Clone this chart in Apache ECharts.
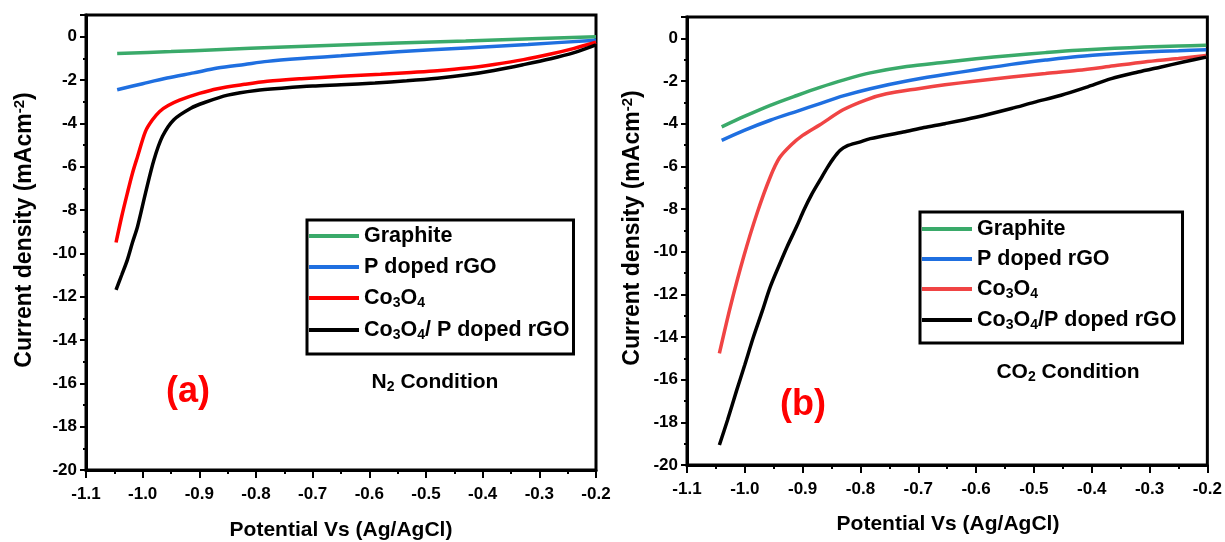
<!DOCTYPE html>
<html><head><meta charset="utf-8">
<script src="https://cdn.jsdelivr.net/npm/echarts@6/dist/echarts.min.js"></script>
<style>html,body{margin:0;padding:0;background:#fff}#c{width:1225px;height:542px}</style>
</head><body><div id="c"></div>
<script>
// ---- data ----
const seriesNames = ['Graphite', 'P doped rGO', 'Co3O4', 'Co3O4/ P doped rGO'];
const seriesNamesB = ['Graphite ', 'P doped rGO ', 'Co3O4 ', 'Co3O4/P doped rGO'];
const xTickLabels = ['-1.1','-1.0','-0.9','-0.8','-0.7','-0.6','-0.5','-0.4','-0.3','-0.2'];
const yTickLabels = ['-20','-18','-16','-14','-12','-10','-8','-6','-4','-2','0'];

// (a) N2 condition: [potential, current density]
const n2Graphite = [[-1.045,-0.78],[-0.95,-0.69],[-0.87,-0.6],[-0.75,-0.48],[-0.65,-0.38],[-0.55,-0.29],[-0.43,-0.2],[-0.3,-0.08],[-0.2,0.0]];
const n2PrGO = [[-1.045,-2.45],[-1.0,-2.17],[-0.957,-1.91],[-0.91,-1.67],[-0.868,-1.45],[-0.82,-1.28],[-0.78,-1.14],[-0.71,-0.99],[-0.65,-0.88],[-0.55,-0.7],[-0.43,-0.52],[-0.32,-0.36],[-0.2,-0.16]];
const n2Co3O4 = [[-1.047,-9.5],[-1.037,-8.3],[-1.027,-7.22],[-1.018,-6.3],[-1.009,-5.53],[-0.995,-4.37],[-0.983,-3.85],[-0.97,-3.45],[-0.955,-3.18],[-0.935,-2.93],[-0.9,-2.62],[-0.868,-2.4],[-0.82,-2.2],[-0.78,-2.06],[-0.72,-1.94],[-0.65,-1.83],[-0.58,-1.74],[-0.534,-1.66],[-0.48,-1.57],[-0.428,-1.45],[-0.38,-1.28],[-0.328,-1.06],[-0.28,-0.8],[-0.24,-0.55],[-0.2,-0.26]];
const n2Composite = [[-1.047,-11.69],[-1.037,-11.0],[-1.027,-10.3],[-1.018,-9.5],[-1.009,-8.76],[-0.995,-7.22],[-0.98,-5.68],[-0.965,-4.6],[-0.945,-3.83],[-0.915,-3.3],[-0.892,-3.05],[-0.85,-2.7],[-0.8,-2.48],[-0.75,-2.37],[-0.7,-2.28],[-0.65,-2.22],[-0.59,-2.14],[-0.534,-2.04],[-0.48,-1.92],[-0.428,-1.76],[-0.38,-1.56],[-0.328,-1.29],[-0.28,-1.02],[-0.24,-0.75],[-0.2,-0.38]];

// (b) CO2 condition
const co2Graphite = [[-1.04,-4.15],[-1.0,-3.65],[-0.956,-3.14],[-0.91,-2.68],[-0.87,-2.3],[-0.83,-1.96],[-0.783,-1.62],[-0.72,-1.32],[-0.654,-1.12],[-0.6,-0.96],[-0.539,-0.8],[-0.48,-0.67],[-0.424,-0.56],[-0.36,-0.47],[-0.309,-0.41],[-0.25,-0.36],[-0.202,-0.33]];
const co2PrGO = [[-1.04,-4.78],[-1.0,-4.3],[-0.956,-3.84],[-0.91,-3.42],[-0.87,-3.06],[-0.83,-2.7],[-0.783,-2.36],[-0.72,-2.0],[-0.654,-1.7],[-0.6,-1.47],[-0.539,-1.22],[-0.48,-1.02],[-0.424,-0.85],[-0.36,-0.72],[-0.309,-0.64],[-0.25,-0.58],[-0.202,-0.53]];
const co2Co3O4 = [[-1.044,-14.77],[-1.025,-12.58],[-1.002,-10.24],[-0.979,-8.21],[-0.956,-6.5],[-0.94,-5.6],[-0.92,-5.0],[-0.9,-4.55],[-0.87,-4.05],[-0.83,-3.35],[-0.79,-2.88],[-0.755,-2.6],[-0.7,-2.36],[-0.654,-2.18],[-0.6,-2.0],[-0.539,-1.81],[-0.48,-1.65],[-0.424,-1.5],[-0.37,-1.32],[-0.309,-1.11],[-0.25,-0.95],[-0.202,-0.8]];
const co2Composite = [[-1.044,-19.06],[-1.03,-17.9],[-1.014,-16.49],[-1.0,-15.3],[-0.985,-13.99],[-0.97,-12.8],[-0.956,-11.65],[-0.94,-10.6],[-0.927,-9.78],[-0.91,-8.8],[-0.898,-8.06],[-0.885,-7.35],[-0.87,-6.65],[-0.857,-6.05],[-0.847,-5.64],[-0.835,-5.25],[-0.824,-5.05],[-0.8,-4.85],[-0.783,-4.7],[-0.726,-4.39],[-0.69,-4.18],[-0.654,-4.0],[-0.6,-3.7],[-0.539,-3.29],[-0.5,-3.0],[-0.453,-2.67],[-0.41,-2.3],[-0.366,-1.89],[-0.32,-1.58],[-0.28,-1.34],[-0.24,-1.1],[-0.202,-0.88]];

const colorsA = ['#3aaa6a', '#1f6fe0', '#ff0000', '#000000'];
const colorsB = ['#3aaa6a', '#1f6fe0', '#f04444', '#000000'];

// ---- chart ----
const FONT = "'Liberation Sans', Arial, sans-serif";
const chart = echarts.init(document.getElementById('c'), null, {renderer: 'canvas'});

function xAxis(gi) {
  return {
    type: 'value', gridIndex: gi, min: -1.1, max: -0.2, interval: 0.1,
    axisLine: {show: true, onZero: false, lineStyle: {color: '#000', width: 3}},
    axisTick: {show: true, inside: false, length: 8, lineStyle: {color: '#000', width: 2}},
    minorTick: {show: true, splitNumber: 2, length: 4, lineStyle: {color: '#000', width: 2}},
    splitLine: {show: false},
    axisLabel: {color: '#000', fontSize: 17, fontWeight: 'bold', fontFamily: FONT, margin: 16,
      formatter: v => { const i = Math.round((v + 1.1) / 0.1); return xTickLabels[i] !== undefined ? xTickLabels[i] : ''; }}
  };
}
function yAxis(gi) {
  return {
    type: 'value', gridIndex: gi, min: -20, max: 1, interval: 2,
    axisLine: {show: true, onZero: false, lineStyle: {color: '#000', width: 3}},
    axisTick: {show: true, inside: false, length: 6, lineStyle: {color: '#000', width: 2}},
    minorTick: {show: true, splitNumber: 2, length: 3, lineStyle: {color: '#000', width: 2}},
    splitLine: {show: false},
    axisLabel: {color: '#000', fontSize: 17, fontWeight: 'bold', fontFamily: FONT, margin: 9, showMaxLabel: false,
      formatter: v => { const i = Math.round((v + 20) / 2); return (Math.abs(v - Math.round(v)) < 1e-6 && v <= 0 && yTickLabels[i] !== undefined) ? yTickLabels[i] : ''; }}
  };
}

function legendFmt(name) {
  const n = name.trim();
  if (n.indexOf('Co3O4') === 0) {
    return '{t|Co}{s|3}{t|O}{s|4}{t|' + n.slice(5) + '}';
  }
  return '{t|' + n + '}';
}
const legendRich = {
  t: {fontSize: 21.5, fontWeight: 'bold', fontFamily: FONT, color: '#000', lineHeight: 24, verticalAlign: 'middle'},
  s: {fontSize: 14, fontWeight: 'bold', fontFamily: FONT, color: '#000', lineHeight: 12, verticalAlign: 'bottom'}
};
function legend(left, top, names, gap, pad) {
  return {
    left: left, top: top, orient: 'vertical', data: names, icon: 'rect',
    itemWidth: 50, itemHeight: 4, itemGap: gap,
    borderColor: '#000', borderWidth: 3, padding: pad,
    selectedMode: false,
    textStyle: {rich: legendRich},
    formatter: legendFmt
  };
}

function lineSeries(name, data, color, xi) {
  return {
    name: name, type: 'line', xAxisIndex: xi, yAxisIndex: xi, data: data,
    showSymbol: false, symbol: 'none', smooth: 0.3,
    color: color, lineStyle: {color: color, width: 3.5}, animation: false
  };
}

const titleFont = {fontSize: 21, fontWeight: 'bold', fontFamily: FONT, fill: '#000'};
const yTitleRich = {
  t: {fontSize: 23, fontWeight: 'bold', fontFamily: FONT, fill: '#000', color: '#000', lineHeight: 26, verticalAlign: 'middle'},
  sup: {fontSize: 15, fontWeight: 'bold', fontFamily: FONT, fill: '#000', color: '#000', lineHeight: 12, verticalAlign: 'top'}
};
const subRich = {
  t: {fontSize: 21, fontWeight: 'bold', fontFamily: FONT, color: '#000', lineHeight: 24, verticalAlign: 'middle'},
  s: {fontSize: 14, fontWeight: 'bold', fontFamily: FONT, color: '#000', lineHeight: 12, verticalAlign: 'bottom'}
};
function gText(x, y, text, extra) {
  return {type: 'text', x: x, y: y, silent: true,
    style: Object.assign({text: text, align: 'center', verticalAlign: 'middle'}, extra)};
}

const option = {
  backgroundColor: '#fff',
  animation: false,
  grid: [
    {left: 86, top: 15, width: 510, height: 455, show: true, borderColor: '#000', borderWidth: 3, backgroundColor: 'transparent'},
    {left: 687, top: 17, width: 521, height: 448, show: true, borderColor: '#000', borderWidth: 3, backgroundColor: 'transparent'}
  ],
  xAxis: [xAxis(0), xAxis(1)],
  yAxis: [yAxis(0), yAxis(1)],
  legend: [legend(307, 220, seriesNames, 9, [5, 4, 12, 2]), legend(920, 212, seriesNamesB, 8, [6, 6, 11, 2])],
  series: [
    lineSeries(seriesNames[0], n2Graphite, colorsA[0], 0),
    lineSeries(seriesNames[1], n2PrGO, colorsA[1], 0),
    lineSeries(seriesNames[2], n2Co3O4, colorsA[2], 0),
    lineSeries(seriesNames[3], n2Composite, colorsA[3], 0),
    lineSeries(seriesNamesB[0], co2Graphite, colorsB[0], 1),
    lineSeries(seriesNamesB[1], co2PrGO, colorsB[1], 1),
    lineSeries(seriesNamesB[2], co2Co3O4, colorsB[2], 1),
    lineSeries(seriesNamesB[3], co2Composite, colorsB[3], 1)
  ],
  graphic: [
    gText(341, 530, 'Potential Vs (Ag/AgCl)', titleFont),
    gText(948, 524, 'Potential Vs (Ag/AgCl)', titleFont),
    {type: 'text', x: 25, y: 230, rotation: Math.PI / 2, silent: true,
      style: {text: '{t|Current density (mAcm}{sup|-2}{t|)}', align: 'center', verticalAlign: 'middle', rich: yTitleRich}},
    {type: 'text', x: 633, y: 228, rotation: Math.PI / 2, silent: true,
      style: {text: '{t|Current density (mAcm}{sup|-2}{t|)}', align: 'center', verticalAlign: 'middle', rich: yTitleRich}},
    gText(188, 392, '(a)', {fontSize: 36, fontWeight: 'bold', fontFamily: FONT, fill: '#ff0000'}),
    gText(803, 405, '(b)', {fontSize: 36, fontWeight: 'bold', fontFamily: FONT, fill: '#ff0000'}),
    gText(435, 382, '{t|N}{s|2}{t| Condition}', {rich: subRich}),
    gText(1068, 372, '{t|CO}{s|2}{t| Condition}', {rich: subRich})
  ]
};
chart.setOption(option);
</script>
</body></html>
